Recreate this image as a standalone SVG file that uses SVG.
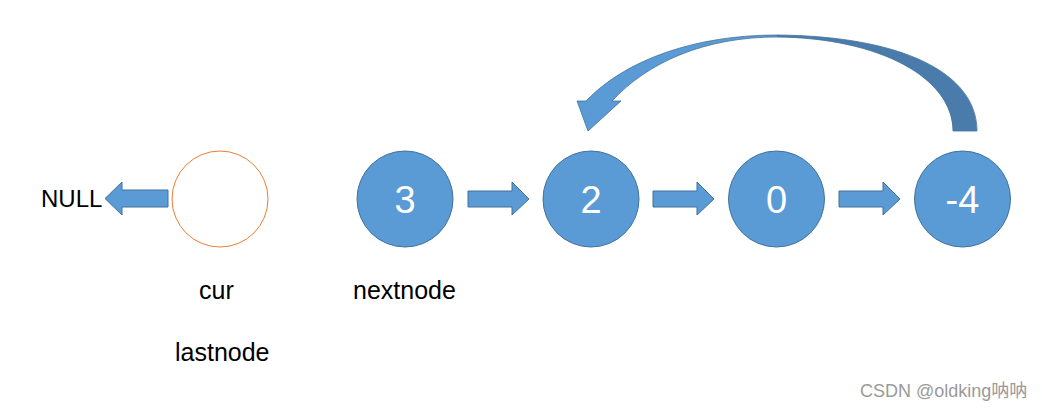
<svg xmlns="http://www.w3.org/2000/svg" width="1042" height="410" viewBox="0 0 1042 410">
<style>
.node{fill:#5B9BD5;stroke:#41719C;stroke-width:1}
.empty{fill:#FFFFFF;stroke:#ED7D31;stroke-width:1}
.num{font-family:"Liberation Sans",Arial,sans-serif;font-size:38px;fill:#FFFFFF;text-anchor:middle}
.lbl{font-family:"Liberation Sans",Arial,sans-serif;font-size:25px;fill:#000000}
.arr{fill:#5B9BD5;stroke:#41719C;stroke-width:1}
.wm{font-family:"Liberation Sans","Noto Sans CJK SC",sans-serif;font-size:18px;fill:#9A9A9A}
</style>
<defs>
<linearGradient id="curve" gradientUnits="userSpaceOnUse" x1="577" y1="0" x2="977" y2="0">
<stop offset="0" stop-color="#5B9BD5"/>
<stop offset="0.5" stop-color="#5B9BD5"/>
<stop offset="0.5" stop-color="#4A7CAB"/>
<stop offset="1" stop-color="#4A7CAB"/>
</linearGradient>
</defs>
<rect width="1042" height="410" fill="#FFFFFF"/>
<g id="connectors">
<path class="arr" d="M168,190 L122,190 L122,182 L105,198.5 L122,215 L122,207 L168,207 Z"/>
<path class="arr" d="M468,191 L512,191 L512,182 L529,199 L512,215 L512,207 L468,207 Z"/>
<path class="arr" d="M653,191 L697,191 L697,182 L714,199 L697,215 L697,207 L653,207 Z"/>
<path class="arr" d="M839,191 L883,191 L883,182 L900,199 L883,215 L883,207 L839,207 Z"/>
<path fill="url(#curve)" stroke="#41719C" stroke-width="0.8" d="M953,131 L977,131 C977,72 900,36 777,35 C695,35 625,60 586,101 L577,101 L588,131 L621,101 L612,101 C648,62 705,37 777,37 C880,38 953,78 953,131 Z"/>
</g>
<g id="null"><text class="lbl" x="41" y="207" style="font-size:24px">NULL</text></g>
<g id="node-empty"><circle class="empty" cx="220" cy="199" r="48"/></g>
<g id="node-3"><circle class="node" cx="405" cy="199" r="48"/><text class="num" x="405" y="213">3</text></g>
<g id="node-2"><circle class="node" cx="591" cy="199" r="48"/><text class="num" x="591" y="213">2</text></g>
<g id="node-0"><circle class="node" cx="776.5" cy="199" r="48"/><text class="num" x="776.5" y="213">0</text></g>
<g id="node-4"><circle class="node" cx="962.5" cy="199" r="48"/><text class="num" x="962.5" y="213">-4</text></g>
<g id="labels">
<text class="lbl" x="199" y="299">cur</text>
<text class="lbl" x="353" y="299">nextnode</text>
<text class="lbl" x="175" y="361">lastnode</text>
</g>
<text class="wm" x="860" y="397">CSDN @oldking呐呐</text>
</svg>
